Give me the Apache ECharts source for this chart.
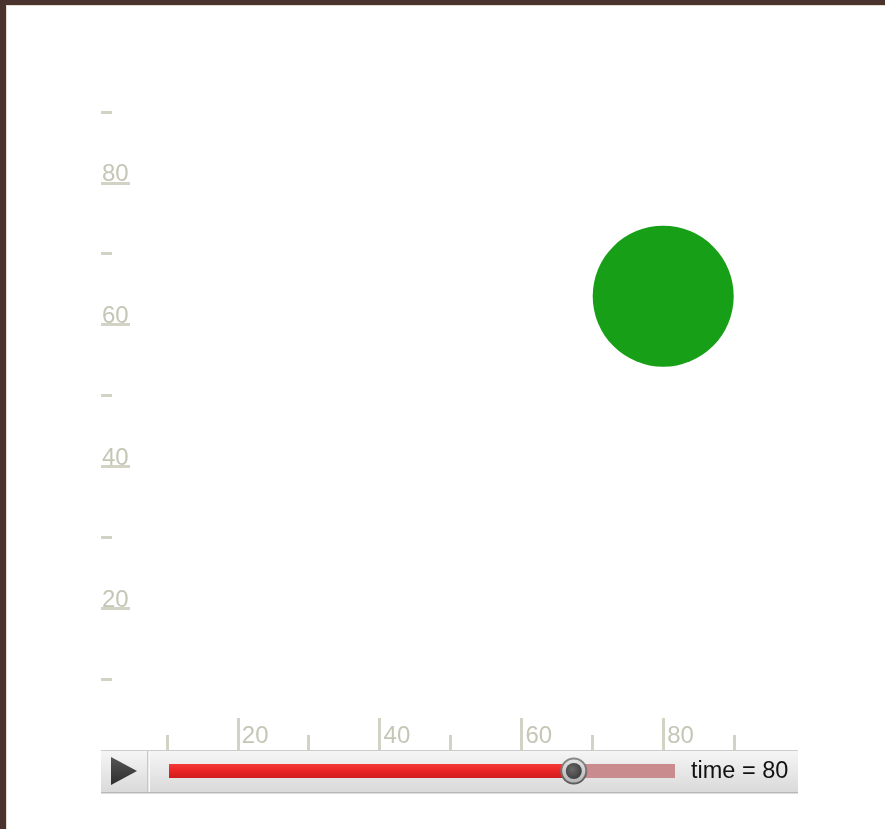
<!DOCTYPE html>
<html>
<head>
<meta charset="utf-8">
<script src="https://cdn.jsdelivr.net/npm/echarts@6/dist/echarts.min.js"></script>
<style>
  html, body { margin: 0; padding: 0; width: 885px; height: 829px; overflow: hidden; background: #4a332d; }
  #panel { position: absolute; left: 6px; top: 5px; width: 900px; height: 850px; background: #ffffff; border-left: 1px solid #e6ddd0; border-top: 1px solid #e6ddd0; }
  #chart { position: absolute; left: 0; top: 0; width: 885px; height: 829px; }
</style>
</head>
<body>
<div id="panel"></div>
<div id="chart"></div>
<script>
// ---- data ----
const xValues = [80];
const yValues = [64];
const bubbleSizes = [141];
const xTickLabels = [20, 40, 60, 80];
const yTickLabels = [20, 40, 60, 80];
const timeValue = [80];

const axisColor = '#d3d3c5';
const labelColor = '#c5c6b6';

const chart = echarts.init(document.getElementById('chart'), null, { renderer: 'canvas' });

const redGrad = new echarts.graphic.LinearGradient(0, 0, 0, 1, [
  { offset: 0, color: '#f33a3a' },
  { offset: 0.5, color: '#ea2424' },
  { offset: 1, color: '#cf1c1c' }
]);

chart.setOption({
  animation: false,
  backgroundColor: 'transparent',
  grid: [
    { left: 96, top: 41, width: 709, height: 709, containLabel: false },
    { left: 169, top: 764, width: 506, height: 14, containLabel: false }
  ],
  xAxis: [
    {
      type: 'value', gridIndex: 0, min: 0, max: 100, interval: 20,
      axisLine: { show: false }, splitLine: { show: false },
      axisTick: { show: true, inside: true, length: 32, customValues: xTickLabels,
        lineStyle: { color: axisColor, width: 3 } },
      minorTick: { show: true, splitNumber: 2, length: 15, lineStyle: { color: axisColor, width: 3 } },
      axisLabel: { show: true, inside: true, customValues: xTickLabels, align: 'left', verticalAlign: 'bottom',
        margin: 2, padding: [0, 0, 0, 4], color: labelColor, fontSize: 24, fontFamily: 'Arial, Liberation Sans' }
    },
    { type: 'value', gridIndex: 1, min: 0, max: 100, show: false }
  ],
  yAxis: [
    {
      type: 'value', gridIndex: 0, min: 0, max: 100, interval: 20, offset: -5,
      axisLine: { show: false }, splitLine: { show: false },
      axisTick: { show: true, inside: true, length: 29, customValues: yTickLabels,
        lineStyle: { color: axisColor, width: 3 } },
      minorTick: { show: true, splitNumber: 2, length: 11, lineStyle: { color: axisColor, width: 3 } },
      axisLabel: { show: true, inside: true, customValues: yTickLabels, align: 'left', verticalAlign: 'bottom',
        margin: 1, lineHeight: 16, color: labelColor, fontSize: 24, fontFamily: 'Arial, Liberation Sans' }
    },
    { type: 'value', gridIndex: 1, min: 0, max: 1, show: false }
  ],
  graphic: [
    // timeline box
    { type: 'rect', z: 0, shape: { x: 101, y: 750, width: 697, height: 43 },
      style: { fill: new echarts.graphic.LinearGradient(0, 0, 0, 1, [
        { offset: 0, color: '#f6f6f6' }, { offset: 1, color: '#d9d9d9' }]) } },
    { type: 'rect', z: 1, shape: { x: 101, y: 750, width: 697, height: 1 }, style: { fill: '#cccccc' } },
    { type: 'rect', z: 1, shape: { x: 101, y: 792, width: 697, height: 1.5 }, style: { fill: '#b9b9b9' } },
    // play button section divider
    { type: 'rect', z: 1, shape: { x: 147, y: 751, width: 1.5, height: 41 }, style: { fill: '#c8c8c8' } },
    { type: 'rect', z: 1, shape: { x: 148.5, y: 751, width: 1.5, height: 41 }, style: { fill: '#fafafa' } },
    // play triangle
    { type: 'polygon', z: 2, shape: { points: [[111, 757], [137, 771], [111, 785]] },
      style: { fill: new echarts.graphic.LinearGradient(0, 0, 0, 1, [
        { offset: 0, color: '#555555' }, { offset: 1, color: '#2e2e2e' }]) } }
  ],
  series: [
    {
      type: 'scatter', xAxisIndex: 0, yAxisIndex: 0,
      data: xValues.map((x, i) => [x, yValues[i], bubbleSizes[i]]),
      symbolSize: (v) => v[2],
      itemStyle: { color: '#189f18', opacity: 1 },
      z: 3
    },
    {
      type: 'custom', xAxisIndex: 1, yAxisIndex: 1, z: 5,
      data: timeValue.map(t => [t]),
      renderItem: function (params, api) {
        const t = api.value(0);
        const p0 = api.coord([0, 0.5]);
        const pt = api.coord([t, 0.5]);
        const p1 = api.coord([100, 0.5]);
        const h = api.size([0, 1])[1];
        return {
          type: 'group',
          children: [
            { type: 'rect', shape: { x: pt[0], y: p0[1] - h / 2, width: p1[0] - pt[0], height: h },
              style: { fill: '#c98b8d' } },
            { type: 'rect', shape: { x: p0[0], y: p0[1] - h / 2, width: pt[0] - p0[0], height: h },
              style: { fill: redGrad } },
            { type: 'circle', shape: { cx: pt[0], cy: pt[1], r: 13.5 },
              style: { fill: new echarts.graphic.LinearGradient(0, 0, 0, 1, [
                { offset: 0, color: '#8a8a8a' }, { offset: 1, color: '#5a5a5a' }]) } },
            { type: 'circle', shape: { cx: pt[0], cy: pt[1], r: 11.5 },
              style: { fill: new echarts.graphic.LinearGradient(0, 0, 0, 1, [
                { offset: 0, color: '#e4e4e4' }, { offset: 1, color: '#b4b4b4' }]) } },
            { type: 'circle', shape: { cx: pt[0], cy: pt[1], r: 8 },
              style: { fill: new echarts.graphic.RadialGradient(0.4, 0.4, 0.7, [
                { offset: 0, color: '#6a6a6a' }, { offset: 1, color: '#3a3a3a' }]) } },
            { type: 'text', x: p1[0] + 16, y: pt[1] + 1,
              style: { text: 'time = ' + t, fill: '#111111', fontSize: 23.5, fontFamily: 'Arial, Liberation Sans',
                align: 'left', verticalAlign: 'middle' } }
          ]
        };
      }
    }
  ]
});
</script>
</body>
</html>
